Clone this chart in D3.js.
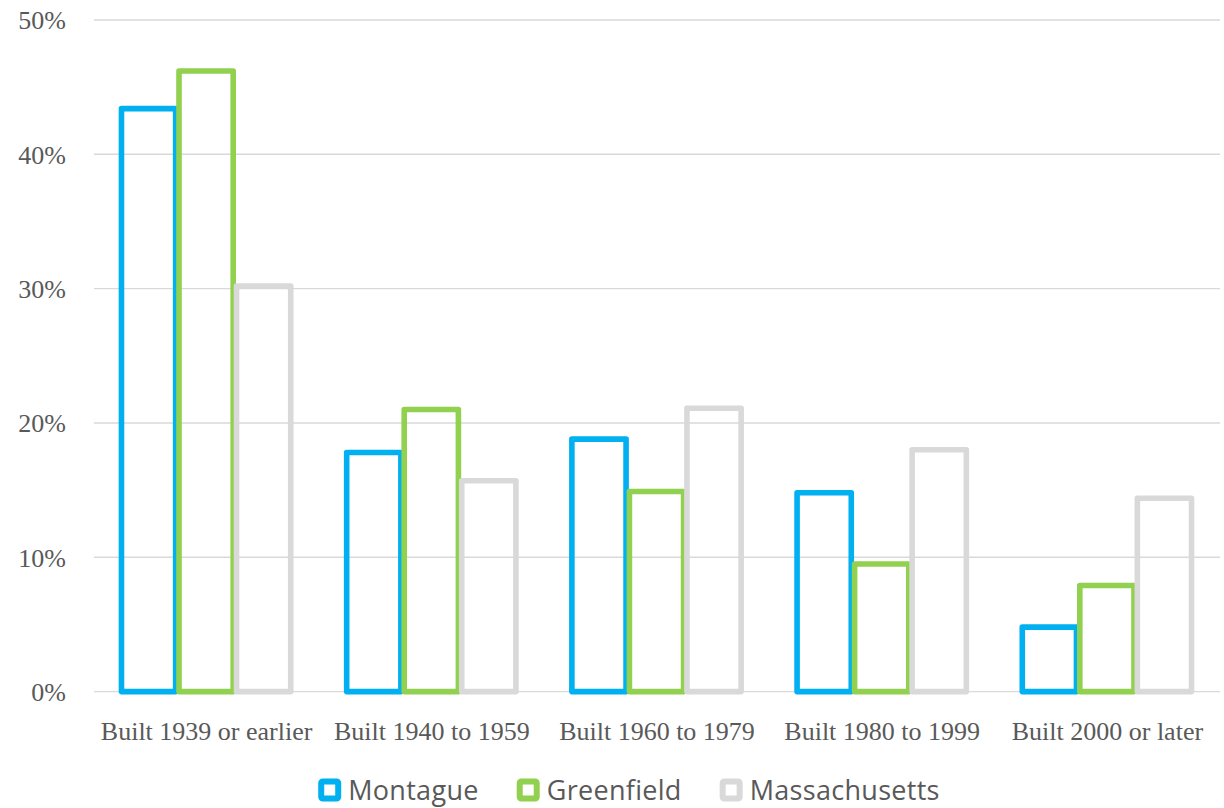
<!DOCTYPE html>
<html>
<head>
<meta charset="utf-8">
<script src="https://cdn.jsdelivr.net/npm/d3@7"></script>
<style>
  html, body { margin: 0; padding: 0; background: #ffffff; }
  svg { display: block; }
</style>
</head>
<body>
<svg id="chart" width="1224" height="808"></svg>
<script>
// Share of housing units by year structure built
const categories = ["Built 1939 or earlier", "Built 1940 to 1959", "Built 1960 to 1979", "Built 1980 to 1999", "Built 2000 or later"];
const seriesNames = ["Montague", "Greenfield", "Massachusetts"];
const montague = [0.434, 0.178, 0.188, 0.148, 0.048];
const greenfield = [0.462, 0.210, 0.149, 0.095, 0.079];
const massachusetts = [0.302, 0.157, 0.211, 0.180, 0.144];
const seriesColors = ["#00B0F0", "#92D050", "#D9D9D9"];
const yTicks = [0, 0.1, 0.2, 0.3, 0.4, 0.5];

const seriesValues = [montague, greenfield, massachusetts];
const rows = categories.map((c, i) => ({
  category: c,
  values: seriesNames.map((s, j) => ({ series: s, value: seriesValues[j][i], color: seriesColors[j] }))
}));

const svg = d3.select("#chart");
const plot = { left: 94, right: 1220, top: 20, bottom: 691.6 };

const x0 = d3.scaleBand()
  .domain(categories)
  .range([plot.left, plot.right])
  .paddingInner(0.244)
  .paddingOuter(0.122);

const x1 = d3.scaleBand()
  .domain(seriesNames)
  .range([0, x0.bandwidth() - 1])
  .paddingInner(0.058)
  .paddingOuter(0);

const y = d3.scaleLinear()
  .domain([0, 0.5])
  .range([plot.bottom, plot.top]);

// Horizontal gridlines
svg.append("g")
  .selectAll("line")
  .data(yTicks)
  .join("line")
  .attr("x1", plot.left)
  .attr("x2", plot.right)
  .attr("y1", d => y(d))
  .attr("y2", d => y(d))
  .attr("stroke", "#D9D9D9")
  .attr("stroke-width", 1.4);

// Y axis labels
const yAxis = d3.axisLeft(y)
  .tickValues(yTicks)
  .tickFormat(d3.format(".0%"))
  .tickSize(0)
  .tickPadding(0);

const yg = svg.append("g")
  .attr("transform", "translate(66,0)")
  .call(yAxis);
yg.select(".domain").remove();
yg.selectAll("text")
  .attr("font-family", "'Liberation Serif', 'Times New Roman', serif")
  .attr("font-size", 26)
  .attr("fill", "#595959")
  .attr("dy", "0.34em");

// Outlined bars
const groups = svg.append("g")
  .selectAll("g")
  .data(rows)
  .join("g")
  .attr("transform", d => `translate(${x0(d.category)},0)`);

groups.selectAll("rect")
  .data(d => d.values)
  .join("rect")
  .attr("x", d => x1(d.series))
  .attr("width", x1.bandwidth())
  .attr("y", d => y(d.value))
  .attr("height", d => y(0) - y(d.value))
  .attr("fill", "none")
  .attr("stroke", d => d.color)
  .attr("stroke-width", 5.6)
  .attr("stroke-linejoin", "round");

// Category labels
const xAxis = d3.axisBottom(x0).tickSize(0).tickPadding(0);
const xg = svg.append("g")
  .attr("transform", "translate(0,740)")
  .call(xAxis);
xg.select(".domain").remove();
xg.selectAll("text")
  .attr("font-family", "'Liberation Serif', 'Times New Roman', serif")
  .attr("font-size", 26)
  .attr("fill", "#595959")
  .attr("dy", 0);

// Legend
const legend = svg.append("g");
const items = legend.selectAll("g")
  .data(seriesNames.map((s, i) => ({ name: s, color: seriesColors[i] })))
  .join("g");

items.append("rect")
  .attr("x", 3)
  .attr("y", -8.5)
  .attr("width", 17)
  .attr("height", 17)
  .attr("rx", 1.5)
  .attr("fill", "#ffffff")
  .attr("stroke", d => d.color)
  .attr("stroke-width", 6);

items.append("text")
  .attr("x", 30)
  .attr("y", 0)
  .attr("dy", "0.36em")
  .attr("font-family", "'Open Sans', 'Noto Sans', sans-serif")
  .attr("font-size", 27)
  .attr("letter-spacing", 0.3)
  .attr("fill", "#595959")
  .text(d => d.name);

let cursor = 0;
const gap = 38;
items.each(function () {
  const g = d3.select(this);
  const w = 30 + g.select("text").node().getComputedTextLength();
  g.attr("transform", `translate(${cursor},0)`);
  cursor += w + gap;
});
const totalWidth = cursor - gap;
legend.attr("transform", `translate(${629 - totalWidth / 2},790)`);
</script>
</body>
</html>
